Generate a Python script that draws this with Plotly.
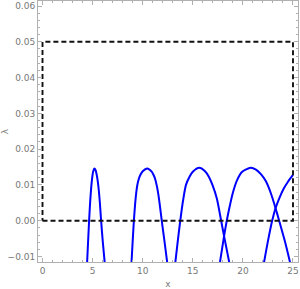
import plotly.graph_objects as go

# Dashed box corners
box_x = [0, 25, 25, 0, 0]
box_y = [0, 0, 0.05, 0.05, 0]

# Blue branches
arch1_x = [4.45, 4.55, 4.65, 4.75, 4.85, 4.95, 5.05, 5.18, 5.30, 5.45, 5.60, 5.73, 5.85, 6.02, 6.21]
arch1_y = [-0.0118, -0.0058, 0.0, 0.0050, 0.0089, 0.0118, 0.0137, 0.0146, 0.0141, 0.0122, 0.0090, 0.0048, 0.0, -0.0060, -0.0118]
arch2_x = [8.88, 9.00, 9.12, 9.23, 9.35, 9.46, 9.58, 9.75, 10.00, 10.45, 10.90, 11.10, 11.27, 11.42, 11.57, 11.73, 11.90, 12.15, 12.45]
arch2_y = [-0.0118, -0.0057, 0.0, 0.0042, 0.0077, 0.0099, 0.0114, 0.0127, 0.0138, 0.0146, 0.0137, 0.0127, 0.0114, 0.0096, 0.0072, 0.0039, 0.0, -0.0052, -0.0118]
arch3_x = [13.25, 13.50, 13.75, 14.02, 14.32, 14.70, 15.00, 15.64, 16.20, 16.60, 16.96, 17.40, 17.83, 18.12, 18.65]
arch3_y = [-0.0118, -0.0057, 0.0, 0.0055, 0.0100, 0.0124, 0.0137, 0.0148, 0.0139, 0.0123, 0.0100, 0.0062, 0.0, -0.0043, -0.0118]
arch4_x = [17.70, 18.12, 18.39, 18.62, 19.00, 19.40, 19.90, 20.77, 21.30, 21.80, 22.30, 22.80, 23.26, 23.62, 24.20, 24.72]
arch4_y = [-0.0118, -0.0043, 0.0, 0.0032, 0.0078, 0.0112, 0.0136, 0.0148, 0.0143, 0.0130, 0.0110, 0.0076, 0.0035, 0.0, -0.0058, -0.0118]
arch5_x = [22.10, 22.50, 22.92, 23.26, 23.65, 24.08, 24.50, 25.0]
arch5_y = [-0.0118, -0.0057, 0.0, 0.0035, 0.0064, 0.0090, 0.0109, 0.0128]

x_ticks = [0, 5, 10, 15, 20, 25]
y_ticks = [-0.01, 0.0, 0.01, 0.02, 0.03, 0.04, 0.05, 0.06]
y_tick_labels = ["\u22120.01", "0.00", "0.01", "0.02", "0.03", "0.04", "0.05", "0.06"]

fig = go.Figure()
for ax, ay in [(arch1_x, arch1_y), (arch2_x, arch2_y), (arch3_x, arch3_y),
               (arch4_x, arch4_y), (arch5_x, arch5_y)]:
    fig.add_trace(go.Scatter(x=ax, y=ay, mode="lines",
                             line=dict(color="#0000ff", width=2, shape="spline", smoothing=0.7),
                             hoverinfo="skip", showlegend=False))
fig.add_trace(go.Scatter(x=box_x, y=box_y, mode="lines",
                         line=dict(color="#111111", width=1.9, dash="5px,3px"),
                         hoverinfo="skip", showlegend=False))

font = dict(family="DejaVu Sans", size=9, color="#777777")
axis_common = dict(showgrid=False, zeroline=False, showline=True, linecolor="#b0b0b0",
                   linewidth=1, mirror="ticks", ticks="inside", ticklen=4, tickwidth=0.8,
                   tickcolor="#b0b0b0", tickfont=font, automargin=False)

fig.update_xaxes(range=[-0.45, 25.5], tickvals=x_ticks,
                 minor=dict(dtick=1, ticks="inside", ticklen=2, tickcolor="#b0b0b0", tickwidth=0.8),
                 title=dict(text="x", font=font),
                 **axis_common)
fig.update_yaxes(range=[-0.01154, 0.0614], tickvals=y_ticks, ticktext=y_tick_labels,
                 minor=dict(dtick=0.002, ticks="inside", ticklen=2, tickcolor="#b0b0b0", tickwidth=0.8),
                 title=dict(text="\u03bb", font=font),
                 **axis_common)

fig.update_layout(width=300, height=289, margin=dict(l=38, r=2, t=1, b=27),
                  plot_bgcolor="white", paper_bgcolor="white")
fig.write_html("out.html", config={"displayModeBar": False},
               post_script="document.body.style.margin='0';")
